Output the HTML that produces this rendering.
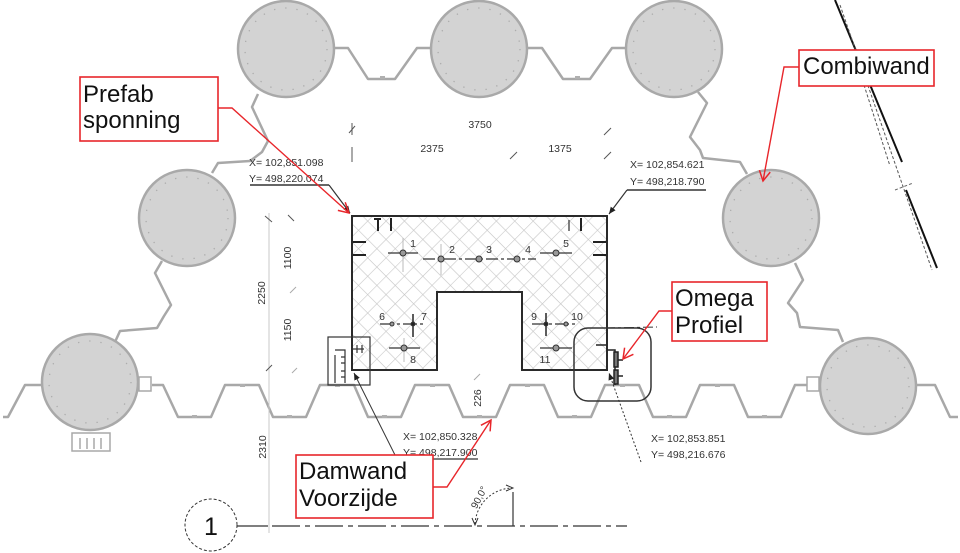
<!DOCTYPE html>
<html><head><meta charset="utf-8"><style>
html,body{margin:0;padding:0;background:#fff;}
svg{display:block;}
text{font-family:"Liberation Sans",sans-serif;}
</style></head><body>
<svg width="960" height="553" viewBox="0 0 960 553" xmlns="http://www.w3.org/2000/svg">
<defs>
<pattern id="hatch" width="13" height="13" patternUnits="userSpaceOnUse" patternTransform="rotate(45)">
<path d="M0 0H13M0 0V13" stroke="#c6c6c6" stroke-width="1.2" fill="none"/>
</pattern>
<marker id="ra" markerWidth="14" markerHeight="14" refX="11" refY="7" orient="auto" markerUnits="userSpaceOnUse">
<path d="M1 1.5 L11 7 L1 12.5" fill="none" stroke="#e8262b" stroke-width="1.5"/>
</marker>
<marker id="ka" markerWidth="8" markerHeight="8" refX="7" refY="4" orient="auto" markerUnits="userSpaceOnUse">
<path d="M0 1 L7 4 L0 7 Z" fill="#222"/>
</marker>
</defs>

<!-- right diagonal combiwand edge -->
<g fill="none">
<line x1="835" y1="0" x2="902" y2="162" stroke="#111" stroke-width="2"/>
<line x1="906" y1="190" x2="937" y2="268" stroke="#111" stroke-width="2"/>
<line x1="840" y1="5" x2="932" y2="270" stroke="#555" stroke-width="1" stroke-dasharray="3 2"/>
<line x1="864" y1="85" x2="890" y2="166" stroke="#555" stroke-width="1" stroke-dasharray="3 2"/>
<line x1="895" y1="190" x2="913" y2="183" stroke="#666" stroke-width="1" stroke-dasharray="3 2"/>
</g>

<!-- sheet piles -->
<g fill="none" stroke="#a8a8a8" stroke-width="2.5" stroke-linejoin="round">
<polyline points="333,48 348,48 368,79 395,79 417,48 432,48"/>
<polyline points="527,48 542,48 563,79 590,79 612,48 627,48"/>
<polyline points="258,94 252,107 268,141 262,152 250,161 218,163 212,173"/>
<polyline points="162,261 155,273 171,305 164,316 157,328 120,331 115,342"/>
<polyline points="698,92 707,103 690,137 700,150 703,158 740,162 747,174"/>
<polyline points="795,263 803,280 788,303 797,313 800,327 838,330 843,342"/>
<polyline points="3,417 8,417 25,385 42,385"/>
<polyline points="152,385 163,385 178,417 211,417 225,385 259,385 273,417 306,417 320,385 354,385 368,417 401,417 415,385 449,385 463,417 496,417 510,385 544,385 558,417 591,417 605,385 639,385 653,417 686,417 700,385 734,385 748,417 781,417 795,385 807,385"/>
<polyline points="917,385 935,385 950,417 958,417"/>
</g>
<g fill="#b0b0b0">
<rect x="380" y="76" width="5" height="3"/><rect x="575" y="76" width="5" height="3"/>
<rect x="240" y="384" width="5" height="3"/><rect x="335" y="384" width="5" height="3"/><rect x="430" y="384" width="5" height="3"/><rect x="525" y="384" width="5" height="3"/><rect x="620" y="384" width="5" height="3"/><rect x="715" y="384" width="5" height="3"/>
<rect x="192" y="415" width="5" height="3"/><rect x="287" y="415" width="5" height="3"/><rect x="382" y="415" width="5" height="3"/><rect x="477" y="415" width="5" height="3"/><rect x="572" y="415" width="5" height="3"/><rect x="667" y="415" width="5" height="3"/><rect x="762" y="415" width="5" height="3"/>
</g>
<!-- brackets near bottom piles -->
<g fill="none" stroke="#a8a8a8" stroke-width="1.5">
<rect x="139" y="377" width="12" height="14"/>
<rect x="807" y="377" width="12" height="14"/>
<rect x="72" y="433" width="38" height="18"/>
<line x1="80" y1="438" x2="80" y2="449"/><line x1="87" y1="438" x2="87" y2="449"/><line x1="94" y1="438" x2="94" y2="449"/><line x1="101" y1="438" x2="101" y2="449"/>
</g>

<!-- piles -->
<g fill="#d3d3d3" stroke="#a9a9a9" stroke-width="2.5">
<circle cx="286" cy="49" r="48"/>
<circle cx="479" cy="49" r="48"/>
<circle cx="674" cy="49" r="48"/>
<circle cx="187" cy="218" r="48"/>
<circle cx="771" cy="218" r="48"/>
<circle cx="90" cy="382" r="48"/>
<circle cx="868" cy="386" r="48"/>
</g>
<g fill="none" stroke="#acacac" stroke-width="1.3" stroke-dasharray="1.3 10">
<circle cx="286" cy="49" r="41"/>
<circle cx="479" cy="49" r="41"/>
<circle cx="674" cy="49" r="41"/>
<circle cx="187" cy="218" r="41"/>
<circle cx="771" cy="218" r="41"/>
<circle cx="90" cy="382" r="41"/>
<circle cx="868" cy="386" r="41"/>
</g>

<!-- dimension lines -->
<g stroke="#c8c8c8" stroke-width="1" fill="none">
<line x1="269" y1="213" x2="269" y2="533"/>
</g>
<g stroke="#555" stroke-width="1" fill="none">
<line x1="352" y1="123" x2="352" y2="135"/>
<line x1="352" y1="147" x2="352" y2="162"/>
<line x1="349" y1="133" x2="355" y2="126"/>
<line x1="510" y1="159" x2="517" y2="152"/>
<line x1="604" y1="135" x2="611" y2="128"/>
<line x1="604" y1="159" x2="611" y2="152"/>
<line x1="265" y1="216" x2="272" y2="222"/>
<line x1="288" y1="215" x2="294" y2="221"/>
<line x1="266" y1="371" x2="272" y2="365"/>
<line x1="290" y1="293" x2="296" y2="287" stroke="#aaa"/>
<line x1="292" y1="373" x2="297" y2="368" stroke="#aaa"/>
<line x1="474" y1="380" x2="480" y2="374" stroke="#aaa"/>
</g>
<g font-size="10.5" fill="#333">
<text x="480" y="128" text-anchor="middle">3750</text>
<text x="432" y="152" text-anchor="middle">2375</text>
<text x="560" y="152" text-anchor="middle">1375</text>
<text transform="translate(291,258) rotate(-90)" text-anchor="middle">1100</text>
<text transform="translate(265,293) rotate(-90)" text-anchor="middle">2250</text>
<text transform="translate(291,330) rotate(-90)" text-anchor="middle">1150</text>
<text transform="translate(266,447) rotate(-90)" text-anchor="middle">2310</text>
<text transform="translate(481,398) rotate(-90)" text-anchor="middle">226</text>
</g>

<!-- block -->
<path d="M352 216 H607 V370 H522 V292 H437 V370 H352 Z" fill="url(#hatch)" stroke="#2a2a2a" stroke-width="2"/>
<g stroke="#222" stroke-width="2" fill="none">
<line x1="378" y1="218" x2="378" y2="231"/>
<line x1="391" y1="218" x2="391" y2="231"/>
<line x1="374" y1="219" x2="381" y2="219"/>
<line x1="569" y1="220" x2="569" y2="231" stroke="#555" stroke-width="1.5"/>
<line x1="581" y1="218" x2="581" y2="231"/>
<line x1="353" y1="242" x2="366" y2="242"/>
<line x1="353" y1="255" x2="366" y2="255"/>
<line x1="593" y1="242" x2="606" y2="242"/>
<line x1="593" y1="255" x2="606" y2="255"/>
</g>
<g stroke="#bbb" stroke-width="1">
<line x1="403" y1="238" x2="403" y2="272"/>
<line x1="441" y1="244" x2="441" y2="275"/>
<line x1="404" y1="338" x2="404" y2="362"/>
</g>
<g stroke="#333" stroke-width="1.2" fill="none">
<line x1="388" y1="253" x2="418" y2="253"/>
<line x1="423" y1="259" x2="536" y2="259" stroke-dasharray="12 3 3 3"/>
<line x1="540" y1="253" x2="572" y2="253"/>
<line x1="380" y1="324" x2="426" y2="324" stroke-dasharray="14 3 3 3"/>
<line x1="413" y1="314" x2="413" y2="337" stroke-width="1.6"/>
<line x1="389" y1="348" x2="420" y2="348"/>
<line x1="532" y1="324" x2="578" y2="324" stroke-dasharray="14 3 3 3"/>
<line x1="546" y1="313" x2="546" y2="336" stroke-width="1.6"/>
<line x1="540" y1="348" x2="572" y2="348"/>
</g>
<g fill="#999" stroke="#333" stroke-width="1">
<circle cx="403" cy="253" r="3"/>
<circle cx="441" cy="259" r="3"/>
<circle cx="479" cy="259" r="3"/>
<circle cx="517" cy="259" r="3"/>
<circle cx="556" cy="253" r="3"/>
<circle cx="392" cy="324" r="2"/>
<circle cx="413" cy="324" r="2" fill="#222"/>
<circle cx="404" cy="348" r="3"/>
<circle cx="546" cy="324" r="2" fill="#222"/>
<circle cx="566" cy="324" r="2"/>
<circle cx="556" cy="348" r="3"/>
</g>
<g font-size="10.5" fill="#333">
<text x="413" y="247" text-anchor="middle">1</text>
<text x="452" y="253" text-anchor="middle">2</text>
<text x="489" y="253" text-anchor="middle">3</text>
<text x="528" y="253" text-anchor="middle">4</text>
<text x="566" y="247" text-anchor="middle">5</text>
<text x="382" y="320" text-anchor="middle">6</text>
<text x="424" y="320" text-anchor="middle">7</text>
<text x="413" y="363" text-anchor="middle">8</text>
<text x="534" y="320" text-anchor="middle">9</text>
<text x="577" y="320" text-anchor="middle">10</text>
<text x="545" y="363" text-anchor="middle">11</text>
</g>

<!-- left box -->
<g stroke="#333" stroke-width="1.2" fill="none">
<rect x="328" y="337" width="42" height="48"/>
<line x1="335" y1="355" x2="335" y2="383"/>
<path d="M335 350 H345 V383"/>
<path d="M341 357 h4 M341 363 h4 M341 371 h4 M341 377 h4"/>
<path d="M357 345 v8 M362 345 v8 M352 349 h12"/>
</g>
<!-- omega area -->
<rect x="574" y="328" width="77" height="73" rx="14" ry="14" fill="none" stroke="#333" stroke-width="1.5"/>
<line x1="605" y1="328" x2="657" y2="327" stroke="#333" stroke-width="1" stroke-dasharray="10 3 3 3"/>
<g stroke="#222" stroke-width="1.5" fill="none">
<path d="M607 350 H615 V385"/>
<rect x="614" y="352" width="4" height="15" fill="#777"/>
<rect x="614" y="370" width="4" height="14" fill="#777"/>
<path d="M618 360 h5 M618 376 h5"/>
<path d="M596 345 h10"/>
</g>

<!-- coordinate labels -->
<g font-size="10.5" fill="#333">
<text x="249" y="166">X=  102,851.098</text>
<text x="249" y="182">Y=  498,220.074</text>
<text x="630" y="168">X=  102,854.621</text>
<text x="630" y="185">Y=  498,218.790</text>
<text x="403" y="440">X=  102,850.328</text>
<text x="403" y="456">Y=  498,217.900</text>
<text x="651" y="442">X=  102,853.851</text>
<text x="651" y="458">Y=  498,216.676</text>
</g>
<g stroke="#333" stroke-width="1.2" fill="none">
<line x1="250" y1="185" x2="329" y2="185" stroke-width="1.5"/>
<line x1="329" y1="185" x2="350" y2="213" marker-end="url(#ka)"/>
<line x1="627" y1="190" x2="706" y2="190" stroke-width="1.5"/>
<line x1="627" y1="190" x2="609" y2="214" marker-end="url(#ka)"/>
<line x1="433" y1="459" x2="478" y2="459"/>
<line x1="395" y1="455" x2="354" y2="373" stroke-width="1" marker-end="url(#ka)"/>
<line x1="641" y1="462" x2="609" y2="373" stroke-width="1" stroke-dasharray="2 2" marker-end="url(#ka)"/>
</g>

<!-- grid line 1 -->
<circle cx="211" cy="525" r="26" fill="#fff" stroke="#333" stroke-width="1" stroke-dasharray="3 2"/>
<text x="211" y="535" font-size="25" text-anchor="middle" fill="#111">1</text>
<line x1="237" y1="526" x2="268" y2="526" stroke="#333" stroke-width="1.3"/>
<line x1="272" y1="526" x2="627" y2="526" stroke="#333" stroke-width="1.3" stroke-dasharray="28 5 5 5"/>
<line x1="513" y1="492" x2="513" y2="526" stroke="#333" stroke-width="1.2"/>
<path d="M475 524 A38 38 0 0 1 512 488" fill="none" stroke="#333" stroke-width="1" stroke-dasharray="2 2"/>
<path d="M472 518 L475 525 L478 518" fill="none" stroke="#333" stroke-width="1"/>
<path d="M506 485 L513 488 L506 491" fill="none" stroke="#333" stroke-width="1"/>
<text transform="translate(482,499) rotate(-62)" font-size="10" fill="#333" text-anchor="middle">90,0°</text>

<!-- red callouts -->
<g fill="none" stroke="#e8262b" stroke-width="1.4">
<polyline points="218,108 232,108 349,213" marker-end="url(#ra)"/>
<polyline points="799,67 784,67 763,181" marker-end="url(#ra)"/>
<polyline points="672,311 659,311 623,359" marker-end="url(#ra)"/>
<polyline points="433,487 447,487 491,420" marker-end="url(#ra)"/>
</g>
<g fill="#fff" stroke="#e8262b" stroke-width="1.6">
<rect x="80" y="77" width="138" height="64"/>
<rect x="799" y="50" width="135" height="36"/>
<rect x="672" y="282" width="95" height="59"/>
<rect x="296" y="455" width="137" height="63"/>
</g>
<g font-size="24" fill="#111">
<text x="83" y="102">Prefab</text>
<text x="83" y="128">sponning</text>
<text x="803" y="74">Combiwand</text>
<text x="675" y="306">Omega</text>
<text x="675" y="333">Profiel</text>
<text x="299" y="479">Damwand</text>
<text x="299" y="506">Voorzijde</text>
</g>
</svg>
</body></html>
